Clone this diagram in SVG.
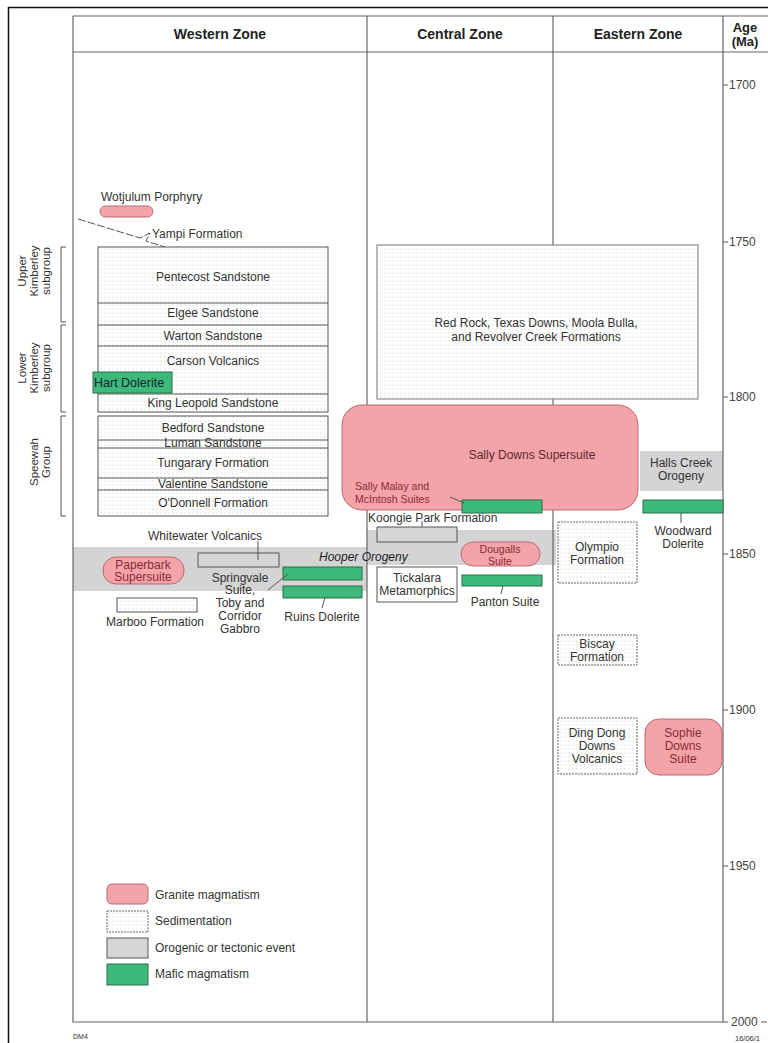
<svg xmlns="http://www.w3.org/2000/svg" width="768" height="1043" viewBox="0 0 768 1043">
<defs>
<pattern id="dots" width="4" height="4" patternUnits="userSpaceOnUse">
<rect width="4" height="4" fill="#ffffff"/>
<circle cx="1" cy="1" r="0.55" fill="#bdbdbd"/>
</pattern>
<style>
text{font-family:"Liberation Sans",Arial,sans-serif;fill:#333;font-size:12px}
.hd{font-weight:bold;font-size:14px;text-anchor:middle;fill:#222}
.c{text-anchor:middle}
.rot{font-size:11.5px;text-anchor:middle}
.red{fill:#8a2a35}
.sm{font-size:10.5px}
.sed{fill:url(#dots);stroke:#555;stroke-width:1}
.sedd{fill:url(#dots);stroke:#666;stroke-width:1;stroke-dasharray:2 1}
.sedw{fill:#fff;stroke:#555;stroke-width:1}
.gran{fill:#f4a3a8;stroke:#b86a72;stroke-width:1}
.maf{fill:#3dba7a;stroke:#2b6e4a;stroke-width:1}
.oro{fill:#d4d4d4;stroke:none}
.orob{fill:#d6d6d6;stroke:#555;stroke-width:1}
.ln{stroke:#555;stroke-width:1;fill:none}
.frame{stroke:#666;stroke-width:1.2;fill:none}
.tick{font-size:12px;fill:#444}
</style>
</defs>
<rect width="768" height="1043" fill="#fff"/>
<path d="M768,7.5 H8.5 V1043" stroke="#111" stroke-width="1.5" fill="none"/>

<g id="hooper-band">
<rect class="oro" x="73" y="547" width="294" height="44"/>
<rect class="oro" x="367" y="530" width="189" height="35"/>
</g>
<g id="halls-creek-orogeny">
<rect class="oro" x="640" y="451" width="83" height="40"/>
<text class="c" x="681" y="467">Halls Creek</text>
<text class="c" x="681" y="480">Orogeny</text>
</g>

<g id="frame">
<path class="frame" d="M73,16 H768 M73,52 H768 M73,16 V1022 H723 M367,16 V1022 M553,16 V1022 M723,16 V1022"/>
<text class="hd" x="220" y="39">Western Zone</text>
<text class="hd" x="460" y="39">Central Zone</text>
<text class="hd" x="638" y="39">Eastern Zone</text>
<text class="hd" x="745" y="32" style="font-size:13px">Age</text>
<text class="hd" x="745" y="46" style="font-size:13px">(Ma)</text>
</g>

<g id="age-axis">
<path class="ln" d="M723,85 h5 M723,242 h5 M723,397 h5 M723,554 h5 M723,710 h5 M723,866 h5 M723,1022 h5 M761,1022 h6"/>
<text class="tick" x="729" y="89">1700</text>
<text class="tick" x="729" y="246">1750</text>
<text class="tick" x="729" y="401">1800</text>
<text class="tick" x="729" y="558">1850</text>
<text class="tick" x="729" y="714">1900</text>
<text class="tick" x="729" y="870">1950</text>
<text class="tick" x="731" y="1026">2000</text>
</g>

<g id="brackets">
<path class="ln" d="M66,247 H61 V322 H66 M66,325 H61 V412 H66 M66,416 H61 V516 H66"/>
<text class="rot" transform="translate(26,271) rotate(-90)">Upper</text>
<text class="rot" transform="translate(38,271) rotate(-90)">Kimberley</text>
<text class="rot" transform="translate(50,271) rotate(-90)">subgroup</text>
<text class="rot" transform="translate(26,368) rotate(-90)">Lower</text>
<text class="rot" transform="translate(38,368) rotate(-90)">Kimberley</text>
<text class="rot" transform="translate(50,368) rotate(-90)">subgroup</text>
<text class="rot" transform="translate(38,462) rotate(-90)">Speewah</text>
<text class="rot" transform="translate(50,462) rotate(-90)">Group</text>
</g>

<g id="wotjulum-porphyry">
<text x="101" y="201">Wotjulum Porphyry</text>
<rect class="gran" x="100" y="206" width="53" height="11" rx="5.5"/>
</g>
<g id="yampi-formation">
<polyline class="ln" points="78,219 140,238 150,233 146,241 168,248" style="stroke-dasharray:8 2"/>
<text x="152" y="238">Yampi Formation</text>
</g>
<g id="upper-kimberley">
<rect class="sed" x="98" y="247" width="230" height="165"/>
<path class="ln" d="M98,303 H328 M98,325 H328 M98,346 H328 M98,394 H328"/>
<text class="c" x="213" y="281">Pentecost Sandstone</text>
<text class="c" x="213" y="317">Elgee Sandstone</text>
<text class="c" x="213" y="340">Warton Sandstone</text>
<text class="c" x="213" y="365">Carson Volcanics</text>
<text class="c" x="213" y="407">King Leopold Sandstone</text>
</g>
<g id="hart-dolerite">
<rect class="maf" x="93" y="372" width="79" height="21"/>
<text x="94" y="387" style="font-size:12.5px;fill:#123">Hart Dolerite</text>
</g>
<g id="speewah">
<rect class="sed" x="98" y="416" width="230" height="100"/>
<path class="ln" d="M98,440 H328 M98,448 H328 M98,478 H328 M98,490 H328"/>
<text class="c" x="213" y="432">Bedford Sandstone</text>
<text class="c" x="213" y="447">Luman Sandstone</text>
<text class="c" x="213" y="467">Tungarary Formation</text>
<text class="c" x="213" y="488">Valentine Sandstone</text>
<text class="c" x="213" y="507">O'Donnell Formation</text>
</g>
<g id="whitewater-volcanics">
<text class="c" x="205" y="540">Whitewater Volcanics</text>
<rect class="orob" x="198" y="553" width="81" height="14"/>
</g>
<g id="hooper-orogeny-label">
<text x="319" y="561" style="font-style:italic;fill:#222">Hooper Orogeny</text>
</g>
<g id="paperbark-supersuite">
<rect class="gran" x="103" y="557" width="81" height="27" rx="13"/>
<text class="c red" x="143" y="569">Paperbark</text>
<text class="c red" x="143" y="581">Supersuite</text>
</g>
<g id="springvale">
<rect class="maf" x="283" y="567" width="79" height="13"/>
<text class="c" x="240" y="582">Springvale</text>
<text class="c" x="240" y="594">Suite,</text>
<text class="c" x="240" y="607">Toby and</text>
<text class="c" x="240" y="620">Corridor</text>
<text class="c" x="240" y="633">Gabbro</text>
</g>
<g id="ruins-dolerite">
<rect class="maf" x="283" y="586" width="79" height="12"/>
<text class="c" x="322" y="621">Ruins Dolerite</text>
</g>
<g id="marboo-formation">
<rect class="sed" x="117" y="598" width="80" height="14"/>
<text class="c" x="155" y="626">Marboo Formation</text>
</g>

<g id="red-rock">
<rect class="sed" x="377" y="245" width="321" height="154" style="stroke:#777"/>
<text class="c" x="536" y="327">Red Rock, Texas Downs, Moola Bulla,</text>
<text class="c" x="536" y="341">and Revolver Creek Formations</text>
</g>
<g id="sally-downs">
<rect class="gran" x="342" y="405" width="296" height="105" rx="20"/>
<text class="c" x="532" y="459" style="fill:#5a2a30">Sally Downs Supersuite</text>
</g>
<g id="sally-malay">
<rect class="maf" x="462" y="500" width="80" height="13"/>
<text class="red sm" x="355" y="490">Sally Malay and</text>
<text class="red sm" x="355" y="503">McIntosh Suites</text>
</g>
<g id="koongie-park">
<text x="368" y="522">Koongie Park Formation</text>
<rect class="orob" x="377" y="527" width="80" height="15"/>
</g>
<g id="dougalls-suite">
<rect class="gran" x="461" y="542" width="79" height="24" rx="12"/>
<text class="c red sm" x="500" y="552.5">Dougalls</text>
<text class="c red sm" x="500" y="565">Suite</text>
</g>
<g id="tickalara">
<rect class="sedw" x="377" y="567" width="80" height="35"/>
<text class="c" x="417" y="582">Tickalara</text>
<text class="c" x="417" y="595">Metamorphics</text>
</g>
<g id="panton-suite">
<rect class="maf" x="462" y="575" width="80" height="11"/>
<text class="c" x="505" y="606">Panton Suite</text>
</g>

<g id="woodward-dolerite">
<rect class="maf" x="643" y="500" width="80" height="13"/>
<text class="c" x="683" y="535">Woodward</text>
<text class="c" x="683" y="548">Dolerite</text>
</g>
<g id="olympio">
<rect class="sedd" x="558" y="522" width="79" height="61"/>
<text class="c" x="597" y="551">Olympio</text>
<text class="c" x="597" y="564">Formation</text>
</g>
<g id="biscay">
<rect class="sedd" x="558" y="635" width="79" height="30"/>
<text class="c" x="597" y="648">Biscay</text>
<text class="c" x="597" y="661">Formation</text>
</g>
<g id="ding-dong">
<rect class="sedd" x="558" y="718" width="79" height="56"/>
<text class="c" x="597" y="737">Ding Dong</text>
<text class="c" x="597" y="750">Downs</text>
<text class="c" x="597" y="763">Volcanics</text>
</g>
<g id="sophie-downs">
<rect class="gran" x="645" y="719" width="77" height="56" rx="14"/>
<text class="c red" x="683" y="737">Sophie</text>
<text class="c red" x="683" y="750">Downs</text>
<text class="c red" x="683" y="763">Suite</text>
</g>

<g id="connectors">
<path class="ln" d="M258,541 V560 M268,590 L288,574 M325,597 L322,608 M422,521 V527 M450,497 L464,503 M503,586 L501,594 M681,513 V523"/>
</g>

<g id="legend">
<rect class="gran" x="107" y="884" width="41" height="20" rx="5"/>
<text x="155" y="899">Granite magmatism</text>
<rect class="sedd" x="107" y="911" width="41" height="21"/>
<text x="155" y="925">Sedimentation</text>
<rect class="orob" x="107" y="938" width="41" height="20"/>
<text x="155" y="952">Orogenic or tectonic event</text>
<rect class="maf" x="107" y="964" width="41" height="21"/>
<text x="155" y="978">Mafic magmatism</text>
</g>

<text x="73" y="1039" style="font-size:7px">DM4</text>
<text x="735" y="1041" style="font-size:7.5px">16/06/1</text>
</svg>
